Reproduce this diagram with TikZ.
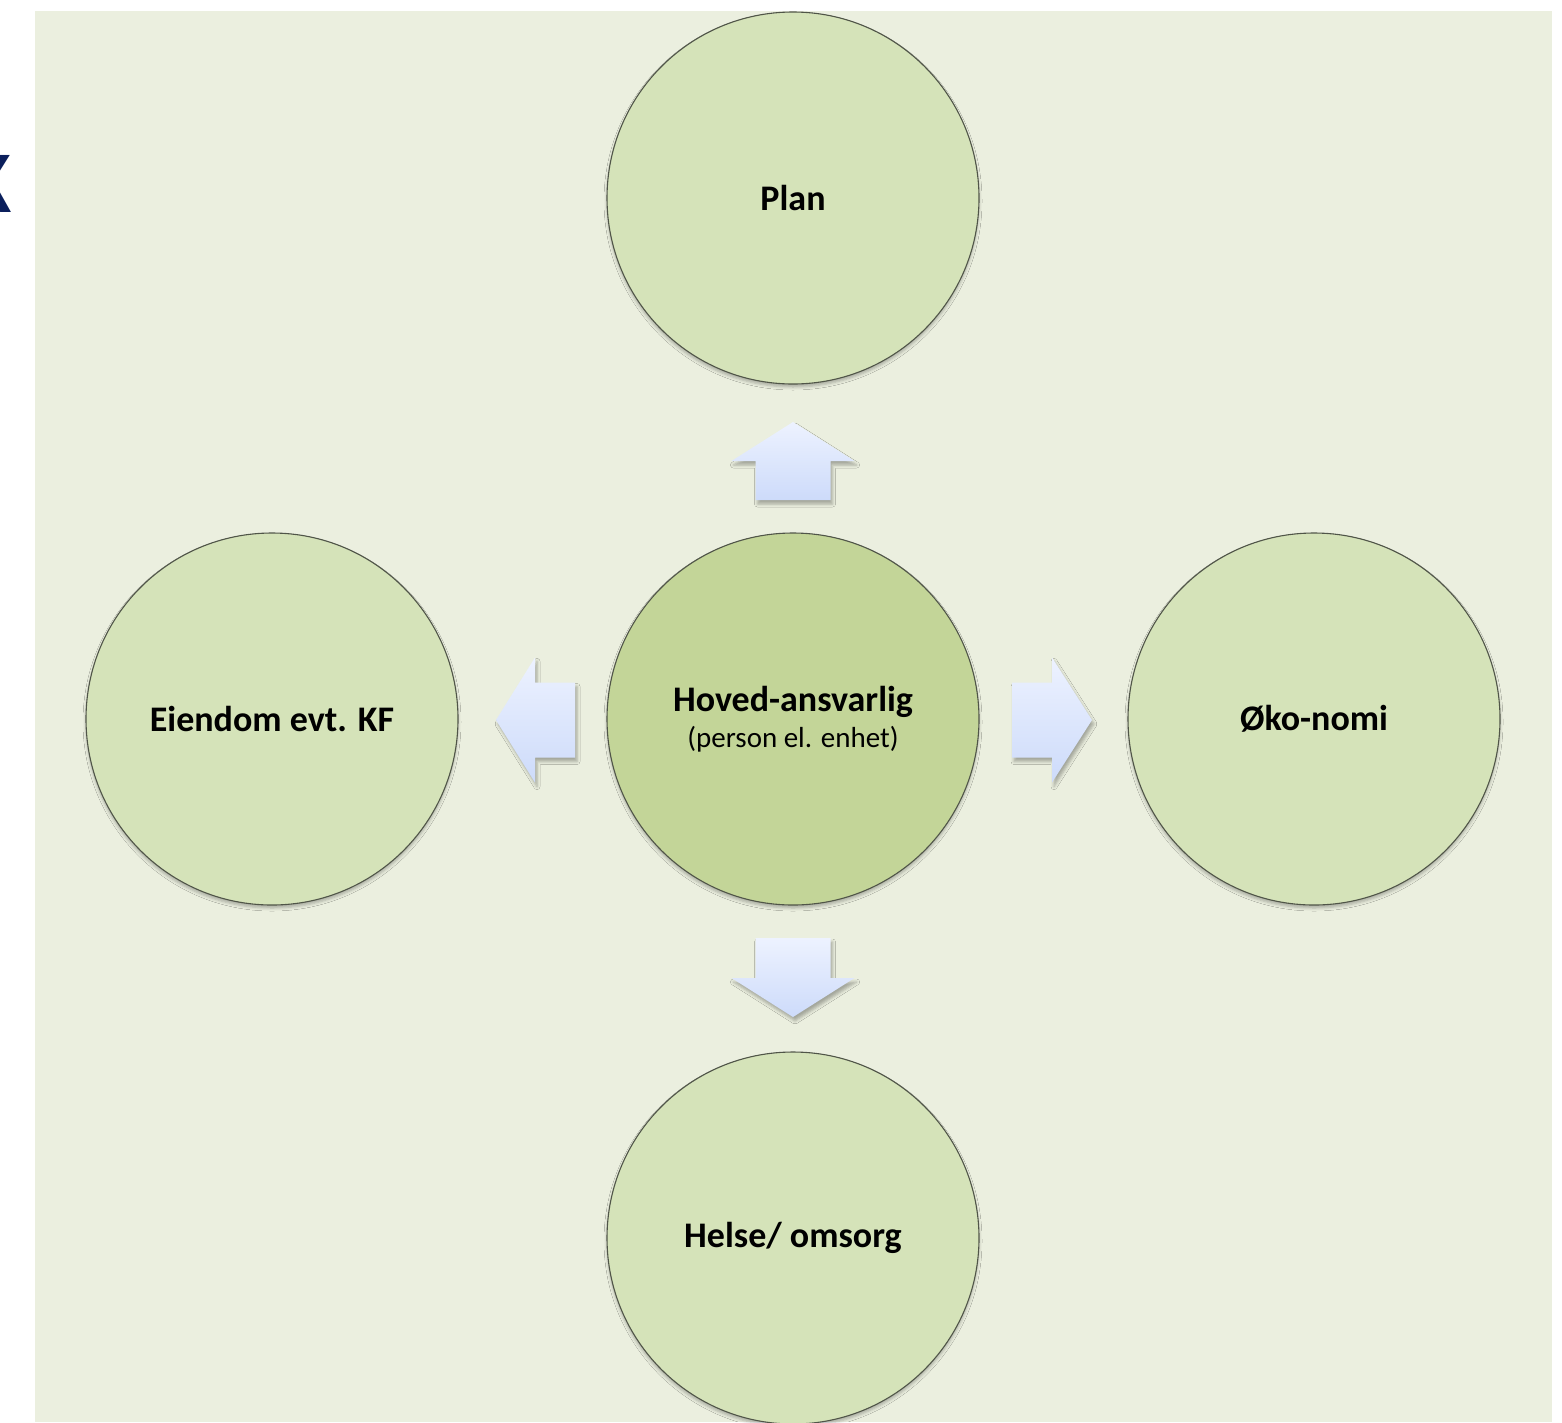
\documentclass[tikz,border=0pt]{standalone}
\usepackage{fontspec}
\setmainfont{Carlito}
\usetikzlibrary{shadows.blur,calc}
\definecolor{panelbg}{HTML}{EBEFDF}
\definecolor{circfill}{HTML}{D5E3B9}
\definecolor{centerfill}{HTML}{C3D598}
\definecolor{circline}{HTML}{505548}
\definecolor{arrowtop}{HTML}{EDF2FF}
\definecolor{arrowbot}{HTML}{CDDBFA}
\definecolor{navy}{HTML}{0B1F5C}
\tikzset{
  bubble/.style={circle, draw=circline, line width=1.1pt, fill=circfill,
    minimum size=372pt, inner sep=0pt, align=center,
    font=\fontsize{36}{40}\selectfont\bfseries,
    blur shadow={shadow xshift=0pt, shadow yshift=-3pt, shadow blur radius=3pt, shadow opacity=28}},
  hub/.style={bubble, fill=centerfill},
  blockarrow/.style={top color=arrowtop, bottom color=arrowbot, draw=none,
    blur shadow={shadow xshift=2pt, shadow yshift=-4pt, shadow blur radius=3pt, shadow opacity=30}}
}
\begin{document}
\begin{tikzpicture}[x=1pt,y=-1pt]
\useasboundingbox (0,0) rectangle (1562,1422);
\fill[panelbg] (35,11) rectangle (1552,1422);
\node[anchor=base east, text=navy, font=\fontsize{88}{90}\selectfont\bfseries, inner sep=0pt] (kfrag) at (12,212) {K};

\node[bubble] (plan) at (793,198) {Plan};
\node[hub] (hub) at (793,719) {Hoved-ansvarlig\\[-4pt]{\fontsize{29}{32}\selectfont\mdseries (person el. enhet)}};
\node[bubble] (eiendom) at (272,719) {Eiendom evt. KF};
\node[bubble] (okonomi) at (1314,719) {Øko-nomi};
\node[bubble] (helse) at (793,1238) {Helse/ omsorg};

% block arrows
\coordinate (au) at (793,461);
\coordinate (ad) at (793,978);
\coordinate (al) at (535,720);
\coordinate (ar) at (1052,720);
\path[blockarrow] ($(au)+(0,-39)$) -- ($(au)+(61.5,0)$) -- ($(au)+(37.5,0)$) -- ($(au)+(37.5,39)$)
  -- ($(au)+(-37.5,39)$) -- ($(au)+(-37.5,0)$) -- ($(au)+(-61.5,0)$) -- cycle;
\path[blockarrow] ($(ad)+(0,39)$) -- ($(ad)+(61.5,0)$) -- ($(ad)+(37.5,0)$) -- ($(ad)+(37.5,-40)$)
  -- ($(ad)+(-37.5,-40)$) -- ($(ad)+(-37.5,0)$) -- ($(ad)+(-61.5,0)$) -- cycle;
\path[blockarrow] ($(al)+(-39,0)$) -- ($(al)+(0,-62.5)$) -- ($(al)+(0,-37.5)$) -- ($(al)+(40,-37.5)$)
  -- ($(al)+(40,37.5)$) -- ($(al)+(0,37.5)$) -- ($(al)+(0,62.5)$) -- cycle;
\path[blockarrow] ($(ar)+(40,0)$) -- ($(ar)+(0,-62.5)$) -- ($(ar)+(0,-37.5)$) -- ($(ar)+(-40,-37.5)$)
  -- ($(ar)+(-40,37.5)$) -- ($(ar)+(0,37.5)$) -- ($(ar)+(0,62.5)$) -- cycle;
\end{tikzpicture}
\end{document}
